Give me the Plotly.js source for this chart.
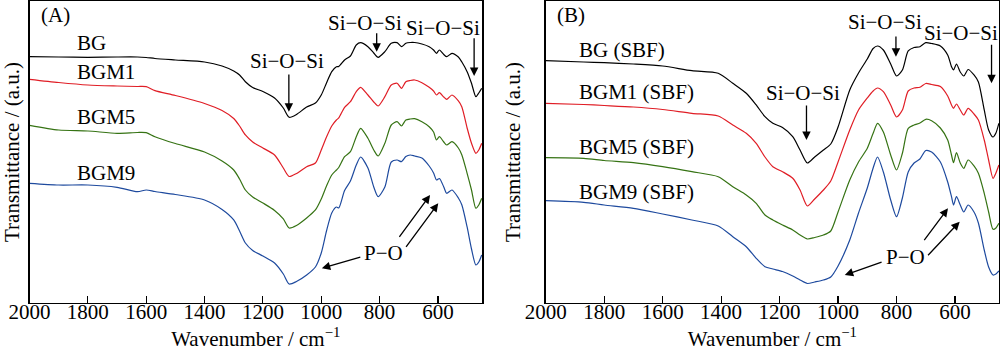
<!DOCTYPE html>
<html>
<head>
<meta charset="utf-8">
<script src="https://cdn.plot.ly/plotly-3.0.1.min.js"></script>
<style>html,body{margin:0;padding:0;background:#fff;}#chart{width:1000px;height:354px;}</style>
</head>
<body>
<div id="chart"></div>
<script>
// Panel A: as-prepared glasses
const wavenumbersA = [2000,1900,1800,1700,1630,1600,1570,1500,1400,1340,1300,1280,1260,1235,1200,1160,1130,1110,1085,1050,1020,1000,982,964,948,940,920,900,880,865,840,820,805,782,760,740,725,710,695,680,655,630,615,605,595,580,570,552,530,518,500,485,470,460,450];
const bgA   = [246.3,246,245.7,246,246,245.5,244.5,243,241,237,232,228,221.3,215.5,211.5,205,195,185.7,188.5,196,200,208,220,231.3,236.3,236.5,243,247,258,260.3,256.3,250,245.7,251.3,259.7,260.3,256.3,259.7,260.5,260.5,259,256.3,253,249.7,253,248.5,246.3,249.7,246,241,231.3,219.7,206.3,210,214.7];
const bgm1A = [223.7,220.5,218,217,216.5,216.3,212.3,207.5,199.5,192.5,184.5,177,168,161,155,148,135,126.5,129.5,136.3,140,153,166,177,183,185,195.7,201.3,211.3,215.7,208,201,197,206.3,218,219.7,214.7,221.3,222.5,223,220.3,215.7,212,208,210.3,206,203.7,208,202,196,175,159.7,149.7,153,159.7];
const bgm5A = [177.7,173,172,169.7,170.5,170.3,166.3,159.5,151,142,133,124,113,106,100,92.5,84,75,77.5,85,93,104,117,128,133,135.5,146.3,151.3,166.3,174.7,164.7,153,147,159.7,178,181.3,177,183,184,184.3,181.3,176.3,171,163,166.3,161,158,161.3,155,148,129.7,113,94.7,98,104.7];
const bgm9A = [119.7,118,118,115.7,111.3,113,111.5,108.5,103,93.5,83,72,60,52.5,47,40,29,19,21.5,28,36,50,72,90,96,95,112.5,122,138,146,135,116,106.3,116,141,143,141.3,146.5,148,147,145,137,130,123,124.5,116,109.7,113,105,98,76,54,38,41,48];

// Panel B: after SBF soaking
const wavenumbersB = [2000,1870,1800,1700,1600,1500,1410,1360,1314,1280,1250,1223,1190,1155,1130,1105,1080,1050,1025,1000,960,930,900,880,865,845,820,800,780,760,740,720,700,680,650,625,612,605,595,582,570,555,535,520,500,485,470,460,450];
const bgB   = [242.3,241,240.3,239,237,232.3,229.7,219.7,209.7,198,186.3,179.7,175.5,166.3,153,140,146,153,159,176,213,230,244,254.5,257,253,239,227,233,252,255.5,256.3,260.3,259.5,257,248,236.3,233,239,231,227,233.5,228,221,193,173,166,170,179.7];
const bgm1B = [199.7,198.5,197.5,196,193.5,189.7,187,178,169.7,159.7,146,136.3,131.3,124.7,113,97,104,113,122,141,173,193,205,212,215,211.3,198,186,193,212,215,215.7,219.5,218.5,216.5,207,198,194.7,199,193,188,194.7,189,183,163,143,124.7,130,138];
const bgm5B = [145.3,144.7,142.5,140.3,136.3,131.3,126.3,116.3,108,99.7,88,83,78,73,68,64,65.5,68,72,91,123,141,154.7,169.7,179.7,171,148,133,149.7,174.7,178,180,183.7,182.3,175,163,148,140.3,150.3,140,134.7,143,137,129.7,109.7,91,73.7,75,79.7];
const bgm9B = [102.3,100.7,98,94.7,89,83,77,66.3,56.3,44.7,36.3,34,31.5,27,23,19.5,21,23,26,37,63,90,115,135,146,131,103,86.3,105,131,140,144,152.5,151,141,121,106.3,98,106.3,98,91,98,91,80,53,36,28,29,32];

const namesA = ['BG','BGM1','BGM5','BGM9'];
const namesB = ['BG (SBF)','BGM1 (SBF)','BGM5 (SBF)','BGM9 (SBF)'];
const colors = ['#000000','#e01e26','#367314','#1e4a9e'];
const tickVals = [2000,1800,1600,1400,1200,1000,800,600];

const FONT = 'Liberation Serif, Times New Roman, serif';
const seriesA = [bgA,bgm1A,bgm5A,bgm9A];
const seriesB = [bgB,bgm1B,bgm5B,bgm9B];
const traces = [];
seriesA.forEach((ys,i)=>traces.push({x:wavenumbersA,y:ys,name:namesA[i],type:'scatter',mode:'lines',
  line:{color:colors[i],width:1.2,shape:'spline',smoothing:0.7},xaxis:'x',yaxis:'y',hoverinfo:'skip'}));
seriesB.forEach((ys,i)=>traces.push({x:wavenumbersB,y:ys,name:namesB[i],type:'scatter',mode:'lines',
  line:{color:colors[i],width:1.2,shape:'spline',smoothing:0.7},xaxis:'x2',yaxis:'y2',hoverinfo:'skip'}));
// empty helper traces so the tick-label axes get a subplot
traces.push({x:[],y:[],type:'scatter',mode:'lines',xaxis:'x3',yaxis:'y',showlegend:false,hoverinfo:'skip'});
traces.push({x:[],y:[],type:'scatter',mode:'lines',xaxis:'x4',yaxis:'y2',showlegend:false,hoverinfo:'skip'});

const Y0 = 0.1441, Y1 = 0.9972;
function xframe(domain, anchor, range){
  return {domain:domain, anchor:anchor, range:range, autorange:false,
    tickvals:tickVals, ticks:'inside', ticklen:7, tickwidth:1.2, tickcolor:'#000', showticklabels:false,
    showline:true, linecolor:'#000', linewidth:1.5, mirror:true, showgrid:false, zeroline:false};
}
function xlabels(domain, over, range){
  return {domain:domain, overlaying:over, anchor:'free', position:Y0 + 6/354, side:'bottom', range:range, autorange:false,
    tickvals:tickVals, ticks:'', showline:false, showgrid:false, zeroline:false,
    tickfont:{family:FONT,size:21,color:'#000'},
    title:{text:'Wavenumber / cm<sup>−1</sup>', font:{family:FONT,size:21,color:'#000'}, standoff:8}};
}
function yax(anchor){
  return {domain:[Y0,Y1], anchor:anchor, range:[0,302], autorange:false,
    showticklabels:false, ticks:'', showline:true, linecolor:'#000', linewidth:1.5, mirror:true,
    showgrid:false, zeroline:false,
    title:{text:'Transmittance / (a.u.)', font:{family:FONT,size:21,color:'#000'}, standoff:18}};
}

const ann = [];
function label(xref,yref,x,y,text,xanchor){
  ann.push({xref:xref,yref:yref,x:x,y:y,text:text,showarrow:false,xanchor:xanchor||'center',yanchor:'middle',
    font:{family:FONT,size:21,color:'#000'}});
}
function arrow(xref,yref,tx,ty,hx,hy){
  ann.push({xref:xref,yref:yref,axref:xref,ayref:yref,x:hx,y:hy,ax:tx,ay:ty,text:'',showarrow:true,
    arrowhead:2,arrowsize:1.3,arrowwidth:1.3,arrowcolor:'#000',standoff:0,startstandoff:0});
}
label('x','y',1967,288,'(A)','left');
const labelYA = [260.3,231.3,186.3,129.7];
namesA.forEach((n,i)=>label('x','y',1844,labelYA[i],n,'left'));
label('x','y',1118,242.3,'Si−O−Si'); arrow('x','y',1111,230,1111,191.3);
label('x','y',850,280.3,'Si−O−Si');  arrow('x','y',810,271.3,810,251.3);
label('x','y',582,274.7,'Si−O−Si');  arrow('x','y',476,266.3,476,227);
label('x','y',785,49.7,'P−O');
arrow('x','y',861,46.3,998,34.7);
arrow('x','y',736,64.7,627,108);
arrow('x','y',713,54.7,599,99.7);
label('x2','y2',1968,288,'(B)','left');
const labelYB = [253,211.3,156.3,111.3];
namesB.forEach((n,i)=>label('x2','y2',1892,labelYB[i],n,'left'));
label('x2','y2',1120,209.7,'Si−O−Si'); arrow('x2','y2',1108,199,1108,163);
label('x2','y2',840,281.3,'Si−O−Si');  arrow('x2','y2',802,268,802,246.3);
label('x2','y2',578,269.7,'Si−O−Si');  arrow('x2','y2',475,259.7,475,219.7);
label('x2','y2',768,46.3,'P−O');
arrow('x2','y2',846,41.3,977,28);
arrow('x2','y2',709,61.3,624,94.7);
arrow('x2','y2',697,46.3,584,81.3);

const rangeA = [2000,449], rangeB = [2000,449.5];
const layout = {
  width:1000, height:354, margin:{l:0,r:0,t:0,b:0},
  paper_bgcolor:'#fff', plot_bgcolor:'#fff', showlegend:false,
  font:{family:FONT,size:21,color:'#000'},
  xaxis: xframe([0.0295,0.482],'y',rangeA),
  yaxis: yax('x'),
  xaxis2: xframe([0.5457,0.999],'y2',rangeB),
  yaxis2: yax('x2'),
  xaxis3: xlabels([0.0295,0.482],'x',rangeA),
  xaxis4: xlabels([0.5457,0.999],'x2',rangeB),
  annotations: ann
};
Plotly.newPlot('chart', traces, layout, {displayModeBar:false, staticPlot:true});
</script>
</body>
</html>
